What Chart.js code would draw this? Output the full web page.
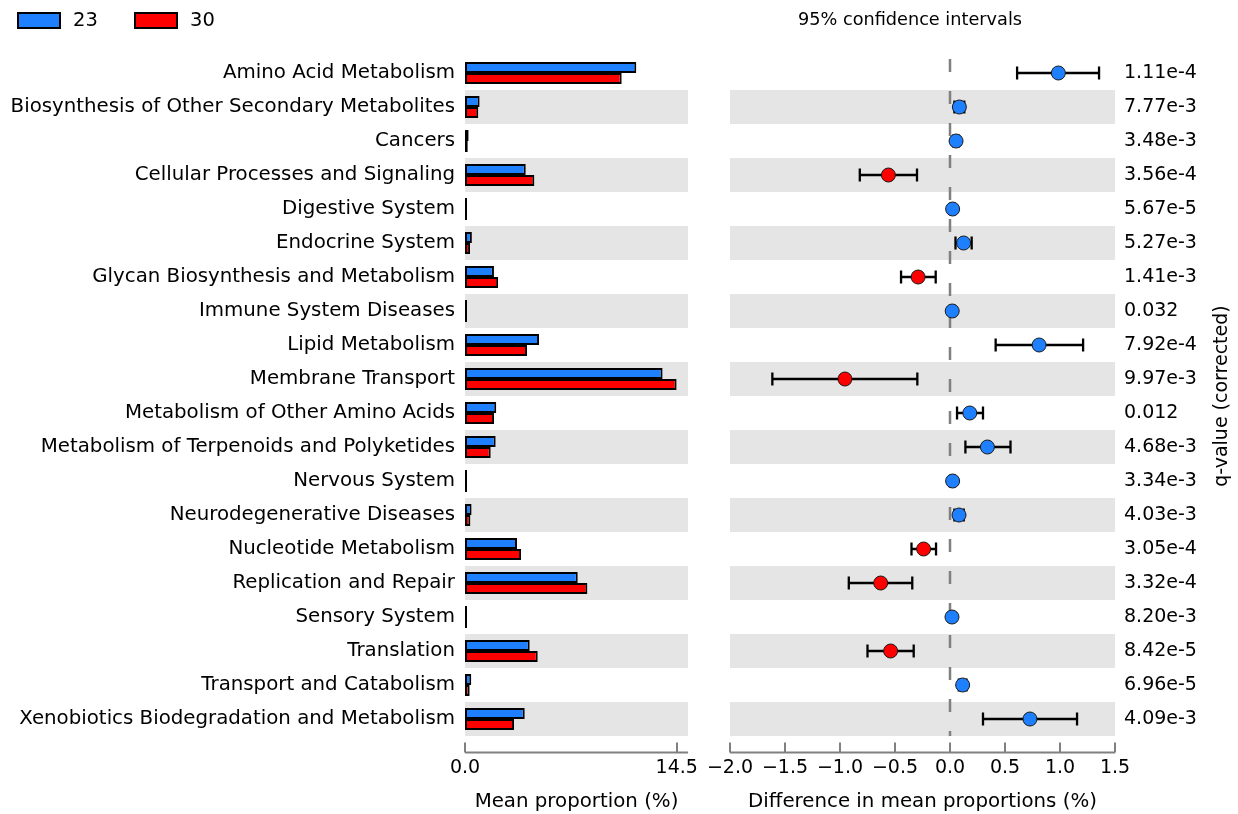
<!DOCTYPE html>
<html>
<head>
<meta charset="utf-8">
<script src="https://cdn.jsdelivr.net/npm/chart.js@4.4.1/dist/chart.umd.min.js"></script>
<style>
  html, body { margin: 0; padding: 0; background: #ffffff; }
  #wrap { position: relative; width: 1238px; height: 814px; overflow: hidden; background: #ffffff; }
  #left { position: absolute; left: 0; top: 0; }
  #right { position: absolute; left: 700px; top: 0; }
</style>
</head>
<body>
<div id="wrap">
  <canvas id="left" width="700" height="814"></canvas>
  <canvas id="right" width="538" height="814"></canvas>
</div>
<script>
// KEGG level-2 pathways compared between groups 23 and 30
const categories = [
  'Amino Acid Metabolism',
  'Biosynthesis of Other Secondary Metabolites',
  'Cancers',
  'Cellular Processes and Signaling',
  'Digestive System',
  'Endocrine System',
  'Glycan Biosynthesis and Metabolism',
  'Immune System Diseases',
  'Lipid Metabolism',
  'Membrane Transport',
  'Metabolism of Other Amino Acids',
  'Metabolism of Terpenoids and Polyketides',
  'Nervous System',
  'Neurodegenerative Diseases',
  'Nucleotide Metabolism',
  'Replication and Repair',
  'Sensory System',
  'Translation',
  'Transport and Catabolism',
  'Xenobiotics Biodegradation and Metabolism'
];

// Mean proportion (%) per group
const group23 = [11.73, 1.00, 0.25, 4.16, 0.07, 0.47, 1.98, 0.04, 5.07, 13.53,
                 2.14, 2.10, 0.12, 0.45, 3.56, 7.72, 0.03, 4.43, 0.43, 4.09];
const group30 = [10.73, 0.91, 0.19, 4.75, 0.05, 0.35, 2.27, 0.02, 4.25, 14.49,
                 1.99, 1.76, 0.10, 0.37, 3.84, 8.38, 0.01, 4.98, 0.32, 3.36];

// Difference in mean proportions (%) with 95% confidence interval
const diffMean = [0.985, 0.085, 0.055, -0.56, 0.024, 0.124, -0.29, 0.02, 0.81, -0.955,
                  0.18, 0.34, 0.024, 0.082, -0.24, -0.63, 0.018, -0.54, 0.115, 0.727];
const ciLow    = [0.61, 0.04, 0.03, -0.82, 0.005, 0.05, -0.445, 0.0, 0.415, -1.615,
                  0.064, 0.14, 0.005, 0.04, -0.35, -0.92, 0.0, -0.75, 0.08, 0.30];
const ciHigh   = [1.355, 0.13, 0.08, -0.30, 0.043, 0.197, -0.13, 0.04, 1.21, -0.297,
                  0.30, 0.55, 0.043, 0.125, -0.127, -0.343, 0.036, -0.33, 0.15, 1.155];

// Corrected q-values
const qValues = ['1.11e-4', '7.77e-3', '3.48e-3', '3.56e-4', '5.67e-5', '5.27e-3', '1.41e-3',
                 '0.032', '7.92e-4', '9.97e-3', '0.012', '4.68e-3', '3.34e-3', '4.03e-3',
                 '3.05e-4', '3.32e-4', '8.20e-3', '8.42e-5', '6.96e-5', '4.09e-3'];

const proportionTicks = [0, 14.5];
const groupNames = ['23', '30'];

const FONT = 'DejaVu Sans';
const BLUE = 'rgb(31,128,255)';
const RED = 'rgb(255,0,0)';
const BAND = '#e5e5e5';
const SPINE = '#808080';

Chart.defaults.font.family = FONT;
Chart.defaults.color = '#000000';

// alternating grey row bands behind the marks
function drawBands(chart, yScale) {
  const { ctx, chartArea } = chart;
  const step = Math.abs(yScale.getPixelForValue(1) - yScale.getPixelForValue(0));
  ctx.save();
  ctx.fillStyle = BAND;
  for (let i = 1; i < categories.length; i += 2) {
    const yc = yScale.getPixelForValue(i);
    ctx.fillRect(chartArea.left, yc - step / 2, chartArea.right - chartArea.left, step);
  }
  ctx.restore();
}

// x axis spine drawn a little below the plot, with inward ticks
function drawSpine(chart, fromPx, toPx) {
  const { ctx, chartArea } = chart;
  const xs = chart.scales.x;
  const yLine = chartArea.bottom + 16.5;
  ctx.save();
  ctx.strokeStyle = SPINE;
  ctx.lineWidth = 2;
  ctx.beginPath();
  ctx.moveTo(fromPx, yLine);
  ctx.lineTo(toPx, yLine);
  xs.ticks.forEach(t => {
    const px = Math.round(xs.getPixelForValue(t.value));
    ctx.moveTo(px, yLine);
    ctx.lineTo(px, yLine - 10);
  });
  ctx.stroke();
  ctx.restore();
}

// keep the plot edges where the layout padding puts them
function noLabelOverflow(s) {
  s.paddingLeft = 0;
  s.paddingRight = 0;
  s.height = 78;
}

const leftDecor = {
  id: 'leftDecor',
  beforeDatasetsDraw(chart) {
    drawBands(chart, chart.scales.y);
  },
  afterDraw(chart) {
    const xs = chart.scales.x;
    drawSpine(chart, xs.getPixelForValue(0), chart.chartArea.right);
    // group legend
    const ctx = chart.ctx;
    const items = [{ x: 18 }, { x: 135 }];
    ctx.save();
    chart.data.datasets.forEach((ds, i) => {
      const x = items[i].x;
      ctx.fillStyle = ds.backgroundColor;
      ctx.fillRect(x, 13, 42, 15);
      ctx.strokeStyle = '#000000';
      ctx.lineWidth = 2;
      ctx.strokeRect(x, 13, 42, 15);
      ctx.fillStyle = '#000000';
      ctx.font = '19.5px "' + FONT + '"';
      ctx.textBaseline = 'middle';
      ctx.textAlign = 'left';
      ctx.fillText(ds.label, x + 55, 21);
    });
    ctx.restore();
  }
};

const rightDecor = {
  id: 'rightDecor',
  beforeDatasetsDraw(chart) {
    const { ctx, chartArea } = chart;
    const xs = chart.scales.x, ys = chart.scales.y;
    drawBands(chart, ys);
    // zero reference line
    const x0 = xs.getPixelForValue(0);
    ctx.save();
    ctx.strokeStyle = SPINE;
    ctx.lineWidth = 2.5;
    ctx.setLineDash([13, 19]);
    ctx.lineDashOffset = -3;
    ctx.beginPath();
    ctx.moveTo(x0, chartArea.top);
    ctx.lineTo(x0, chartArea.bottom);
    ctx.stroke();
    ctx.restore();
    // confidence interval bars
    ctx.save();
    ctx.strokeStyle = '#000000';
    ctx.lineWidth = 2.3;
    for (let i = 0; i < diffMean.length; i++) {
      const yc = ys.getPixelForValue(i);
      const xl = xs.getPixelForValue(ciLow[i]);
      const xh = xs.getPixelForValue(ciHigh[i]);
      ctx.beginPath();
      ctx.moveTo(xl, yc); ctx.lineTo(xh, yc);
      ctx.moveTo(xl, yc - 6.5); ctx.lineTo(xl, yc + 6.5);
      ctx.moveTo(xh, yc - 6.5); ctx.lineTo(xh, yc + 6.5);
      ctx.stroke();
    }
    ctx.restore();
  },
  afterDraw(chart) {
    const { ctx, chartArea } = chart;
    const xs = chart.scales.x;
    drawSpine(chart, xs.getPixelForValue(-2), xs.getPixelForValue(1.5));
    ctx.save();
    ctx.fillStyle = '#000000';
    ctx.font = '17.7px "' + FONT + '"';
    ctx.textAlign = 'center';
    ctx.textBaseline = 'middle';
    ctx.fillText('95% confidence intervals', (chartArea.left + chartArea.right) / 2 - 12.5, 20);
    ctx.translate(chart.width - 16, (chartArea.top + chartArea.bottom) / 2);
    ctx.rotate(-Math.PI / 2);
    ctx.font = '19px "' + FONT + '"';
    ctx.fillText('q-value (corrected)', 0, 0);
    ctx.restore();
  }
};

const tickFont = { family: FONT, size: 19 };
const labelFont = { family: FONT, size: 19.8 };
const hiddenGrid = { display: false, drawTicks: false };

new Chart(document.getElementById('left'), {
  type: 'bar',
  data: {
    labels: categories,
    datasets: [
      { label: groupNames[0], data: group23, backgroundColor: BLUE, borderColor: '#000000',
        borderWidth: 2, borderSkipped: false },
      { label: groupNames[1], data: group30, backgroundColor: RED, borderColor: '#000000',
        borderWidth: 2, borderSkipped: false }
    ]
  },
  options: {
    indexAxis: 'y',
    responsive: false,
    animation: false,
    events: [],
    layout: { padding: { top: 56, right: 12, bottom: 0, left: 0 } },
    datasets: { bar: { barPercentage: 1, categoryPercentage: 0.65, minBarLength: 2 } },
    plugins: { legend: { display: false }, tooltip: { enabled: false } },
    scales: {
      y: {
        type: 'category',
        grid: hiddenGrid,
        border: { display: false },
        ticks: { font: labelFont, color: '#000000', padding: 10, autoSkip: false },
        afterFit(s) { s.width = 465; s.paddingTop = 0; s.paddingBottom = 0; }
      },
      x: {
        type: 'linear',
        min: 0,
        max: 15.27,
        grid: hiddenGrid,
        border: { display: false },
        afterBuildTicks(s) { s.ticks = proportionTicks.map(v => ({ value: v })); },
        ticks: { font: tickFont, color: '#000000', padding: 21, autoSkip: false, maxRotation: 0,
                 callback: v => Number(v).toFixed(1) },
        title: { display: true, text: 'Mean proportion (%)', font: labelFont, color: '#000000',
                 padding: { top: 0, bottom: 0 } },
        afterFit: noLabelOverflow
      }
    }
  },
  plugins: [leftDecor]
});

new Chart(document.getElementById('right'), {
  type: 'scatter',
  data: {
    datasets: [{
      label: 'difference',
      data: diffMean.map((d, i) => ({ x: d, y: i })),
      pointRadius: 7,
      pointHoverRadius: 7,
      pointBorderWidth: 1,
      pointBorderColor: '#1a1a1a',
      pointBackgroundColor: diffMean.map(d => (d > 0 ? BLUE : RED))
    }]
  },
  options: {
    responsive: false,
    animation: false,
    events: [],
    layout: { padding: { top: 56, right: 0, bottom: 0, left: 30 } },
    plugins: { legend: { display: false }, tooltip: { enabled: false } },
    scales: {
      x: {
        type: 'linear',
        min: -2,
        max: 1.5,
        grid: hiddenGrid,
        border: { display: false },
        ticks: { stepSize: 0.5, font: tickFont, color: '#000000', padding: 21, autoSkip: false,
                 maxRotation: 0,
                 callback: v => (v < 0 ? '\u2212' : '') + Math.abs(v).toFixed(1) },
        title: { display: true, text: 'Difference in mean proportions (%)', font: labelFont,
                 color: '#000000', padding: { top: 0, bottom: 0 } },
        afterFit: noLabelOverflow
      },
      y: { type: 'linear', min: -0.5, max: 19.5, reverse: true, display: false },
      q: {
        type: 'category',
        axis: 'y',
        position: 'right',
        labels: qValues,
        offset: true,
        grid: hiddenGrid,
        border: { display: false },
        ticks: { font: tickFont, color: '#000000', padding: 9, autoSkip: false, crossAlign: 'near' },
        afterFit(s) { s.width = 123; s.paddingTop = 0; s.paddingBottom = 0; }
      }
    }
  },
  plugins: [rightDecor]
});
</script>
</body>
</html>
